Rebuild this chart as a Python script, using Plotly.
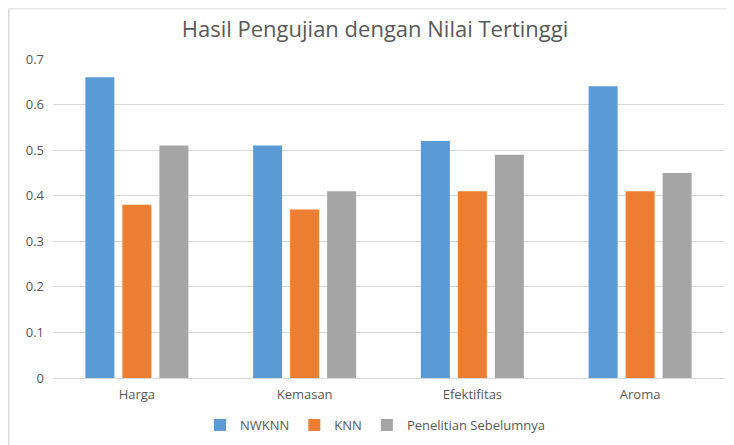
import plotly.graph_objects as go

categories = ["Harga", "Kemasan", "Efektifitas", "Aroma"]
nwknn = [0.66, 0.51, 0.52, 0.64]
knn = [0.38, 0.37, 0.41, 0.41]
sebelumnya = [0.51, 0.41, 0.49, 0.45]
series_names = ["NWKNN", "KNN", "Penelitian Sebelumnya"]
colors = ["#5B9BD5", "#ED7D31", "#A5A5A5"]
y_ticks = [0, 0.1, 0.2, 0.3, 0.4, 0.5, 0.6, 0.7]

fig = go.Figure()
for name, vals, col in zip(series_names, [nwknn, knn, sebelumnya], colors):
    fig.add_trace(go.Bar(x=categories, y=vals, name=name, marker_color=col,
                         marker_line_width=0))

# page body has an 8px margin: figure coords = viewport coords - 8
OFF = 8
W, H = 726, 437
L, T = 53 - OFF, 59 - OFF
R = W - (724 - OFF)
B = H - (378 - OFF)
pw, ph = W - L - R, H - T - B
cx = (375 - OFF - L) / pw

fig.update_layout(
    width=W, height=H,
    margin=dict(l=L, r=R, t=T, b=B, autoexpand=False),
    paper_bgcolor="white", plot_bgcolor="white",
    font=dict(family="Open Sans", color="#595959", size=13),
    title=dict(text="Hasil Pengujian dengan Nilai Tertinggi", x=(375 - OFF) / W, xanchor="center",
               y=1 - (29 - OFF) / H, yanchor="middle",
               font=dict(size=22, color="#595959", family="Open Sans")),
    barmode="group", bargap=0.338, bargroupgap=0.216,
    legend=dict(orientation="h", x=cx, xanchor="center",
                y=-(425 - 378) / ph, yanchor="middle",
                font=dict(size=13, color="#595959"),
                itemwidth=30, traceorder="normal"),
    showlegend=True,
    shapes=[
        dict(type="line", xref="paper", yref="paper",
             x0=(0.75 - L) / pw, x1=(0.75 - L) / pw, y0=-B / ph, y1=(H - B) / ph,
             line=dict(color="#D9D9D9", width=1.5)),
        dict(type="line", xref="paper", yref="paper",
             x0=-L / pw, x1=(W - L) / pw, y0=(H - B - 0.75) / ph, y1=(H - B - 0.75) / ph,
             line=dict(color="#E6E6E6", width=1.5)),
    ],
)

fig.update_yaxes(range=[0, 0.7], tickvals=y_ticks, ticktext=[("%g" % v) for v in y_ticks],
                 showgrid=True, gridcolor="#D9D9D9", gridwidth=1, zeroline=False,
                 showline=False, ticks="", ticklabelstandoff=8,
                 tickfont=dict(size=13, color="#595959"))
fig.update_xaxes(showline=True, linecolor="#D9D9D9", linewidth=1, ticks="",
                 ticklabelstandoff=4, tickfont=dict(size=13, color="#595959"))

fig.write_html("out.html")
